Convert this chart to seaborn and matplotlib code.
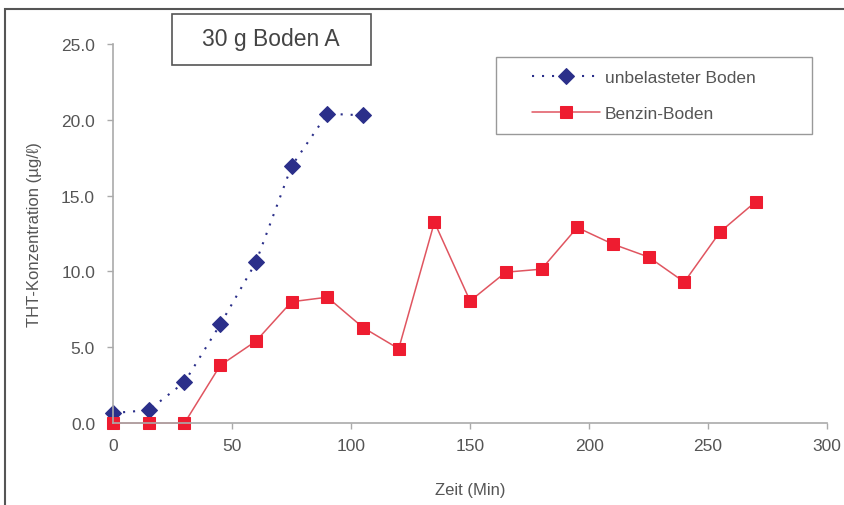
import matplotlib
matplotlib.use("Agg")
import matplotlib.pyplot as plt
import seaborn as sns
import pandas as pd
from matplotlib.patches import Rectangle

sns.set_theme(style="white")
plt.rcParams['font.family'] = ['Liberation Sans', 'DejaVu Sans']

time_unbelastet = [0, 15, 30, 45, 60, 75, 90, 105]
conc_unbelastet = [0.66, 0.85, 2.7, 6.5, 10.6, 16.95, 20.4, 20.3]

time_benzin = [0, 15, 30, 45, 60, 75, 90, 105, 120, 135, 150, 165, 180, 195, 210, 225, 240, 255, 270]
conc_benzin = [0.0, 0.0, 0.0, 3.8, 5.4, 8.0, 8.3, 6.3, 4.9, 13.25, 8.05, 9.95, 10.15, 12.9, 11.8, 10.95, 9.3, 12.6, 14.6]

label_unbelastet = "unbelasteter Boden"
label_benzin = "Benzin-Boden"
x_ticks = [0, 50, 100, 150, 200, 250, 300]
y_ticks = [0.0, 5.0, 10.0, 15.0, 20.0, 25.0]

df_u = pd.DataFrame({"Zeit": time_unbelastet, "Konz": conc_unbelastet})
df_b = pd.DataFrame({"Zeit": time_benzin, "Konz": conc_benzin})

fig = plt.figure(figsize=(8.44, 5.06), dpi=100)
ax = fig.add_axes([0.134, 0.162, 0.846, 0.749])

sns.lineplot(data=df_u, x="Zeit", y="Konz", ax=ax, color="#2B2F8A", linestyle=(0, (1.0, 3.8)),
             linewidth=1.5, marker="D", markersize=8, markeredgecolor="#2B2F8A",
             markerfacecolor="#2B2F8A", label=label_unbelastet)
sns.lineplot(data=df_b, x="Zeit", y="Konz", ax=ax, color="#E05560", linestyle="-",
             linewidth=1.1, marker="s", markersize=8.5, markeredgecolor="#EE1C30",
             markerfacecolor="#EE1C30", label=label_benzin)

ax.set_xlim(0, 300)
ax.set_ylim(0, 25)
ax.set_xticks(x_ticks)
ax.set_yticks(y_ticks)
ax.set_yticklabels([f"{v:.1f}" for v in y_ticks])
ax.tick_params(axis="both", which="both", direction="out", length=4, width=1,
               color="#AAAAAA", labelcolor="#555555", labelsize=12.5, left=True, bottom=True)
ax.tick_params(axis="x", pad=7)
ax.tick_params(axis="y", pad=9)
for s in ["top", "right"]:
    ax.spines[s].set_visible(False)
for s in ["left", "bottom"]:
    ax.spines[s].set_color("#AAAAAA")
    ax.spines[s].set_linewidth(1.2)
for line in ax.lines:
    line.set_clip_on(False)

ax.set_xlabel("Zeit (Min)", fontsize=12, color="#555555", labelpad=21)
ax.set_ylabel("THT-Konzentration (µg/ℓ)", fontsize=12, color="#555555", labelpad=14)

leg = ax.legend(loc="upper left", bbox_to_anchor=((532 - 113) / 714, (424 - 71) / 379),
                frameon=False, fontsize=12.5, handlelength=3.9, borderpad=0,
                labelspacing=1.2, handletextpad=0.3, borderaxespad=0)
for t in leg.get_texts():
    t.set_color("#555555")
ax.add_patch(Rectangle((0.536, 0.7625), 0.443, 0.2035, transform=ax.transAxes, fill=False,
                       edgecolor="#999999", linewidth=1.0, clip_on=False, zorder=5))

fig.patches.append(Rectangle((0.204, 0.870), 0.236, 0.101, transform=fig.transFigure,
                             facecolor="white", edgecolor="#555555", linewidth=1.2))
fig.text(0.321, 0.921, "30 g Boden A", fontsize=16.5, color="#444444", ha="center", va="center")

fig.patches.append(Rectangle((0.006, -0.01), 1.0, 0.99, transform=fig.transFigure,
                             fill=False, edgecolor="#555555", linewidth=1.5))

fig.savefig("out.png", dpi=100)
